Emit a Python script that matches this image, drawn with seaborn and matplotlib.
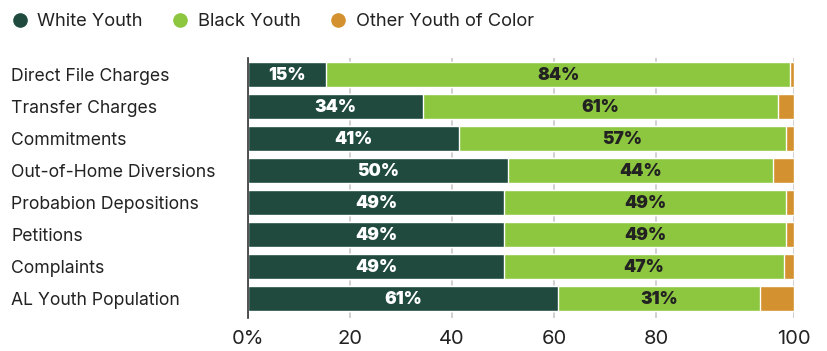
import matplotlib
matplotlib.use("Agg")
import matplotlib.pyplot as plt
import seaborn as sns
import numpy as np
import pandas as pd
from matplotlib.lines import Line2D

categories = ["Direct File Charges", "Transfer Charges", "Commitments",
              "Out-of-Home Diversions", "Probabion Depositions", "Petitions",
              "Complaints", "AL Youth Population"]
white = [15.3, 34.3, 41.4, 51.0, 50.2, 50.2, 50.2, 60.8]
black = [91.0, 69.6, 64.0, 51.9, 55.2, 55.2, 54.8, 39.5]
other = [0.7, 3.1, 1.6, 4.1, 1.6, 1.6, 2.0, 6.7]
white_labels = ["15%", "34%", "41%", "50%", "49%", "49%", "49%", "61%"]
black_labels = ["84%", "61%", "57%", "44%", "49%", "49%", "47%", "31%"]
tick_values = [0, 20, 40, 60, 80, 107]
tick_labels = ["0%", "20", "40", "60", "80", "100"]
series_names = ["White Youth", "Black Youth", "Other Youth of Color"]
colors = ["#1f4a3d", "#8dc63f", "#d4912f"]

sns.set_style("white")
plt.rcParams["font.family"] = ["Inter", "DejaVu Sans"]

df = pd.DataFrame({"category": categories, "white": white,
                   "black": black, "other": other})
df["wb"] = df["white"] + df["black"]
df["total"] = df["wb"] + df["other"]

fig = plt.figure(figsize=(8.27, 3.51), dpi=100)
ax = fig.add_axes([248 / 827, 1 - 318 / 351, (794 - 248) / 827, (318 - 58) / 351])

bw = 25 / 32
sns.barplot(data=df, x="total", y="category", orient="h", color=colors[2],
            width=bw, ax=ax, saturation=1, zorder=3)
sns.barplot(data=df, x="wb", y="category", orient="h", color=colors[1],
            width=bw, ax=ax, saturation=1, zorder=3)
sns.barplot(data=df, x="white", y="category", orient="h", color=colors[0],
            width=bw, ax=ax, saturation=1, zorder=3)

for i in range(len(categories)):
    ax.text(white[i] / 2, i + 0.04, white_labels[i], ha="center", va="center",
            color="white", fontsize=12.5, fontweight=900, zorder=5)
    ax.text(white[i] + black[i] / 2, i + 0.04, black_labels[i], ha="center",
            va="center", color="#222222", fontsize=12.5, fontweight=900, zorder=5)

ax.set_xlim(0, 107)
ax.set_ylim(7.609, -0.516)
ax.set_xticks(tick_values)
ax.set_xticklabels(tick_labels, fontsize=14.5, color="#222222")
ax.tick_params(axis="x", length=0, pad=8.5)
ax.set_yticks(range(len(categories)))
ax.set_yticklabels(categories, fontsize=12.7, color="#222222", ha="left")
ax.tick_params(axis="y", length=0, pad=170.5)
ax.set_xlabel("")
ax.set_ylabel("")
ax.xaxis.grid(True, color="#c8c8c8", linewidth=1.2, zorder=0)
ax.set_axisbelow(True)
for s in ["top", "right", "bottom"]:
    ax.spines[s].set_visible(False)
ax.spines["left"].set_color("#333333")
ax.spines["left"].set_linewidth(1.2)
ax.spines["left"].set_zorder(6)

handles = [Line2D([0], [0], marker="o", linestyle="", markersize=9.5,
                  markerfacecolor=c, markeredgecolor=c) for c in colors]
fig.legend(handles, series_names, loc="center left",
           bbox_to_anchor=(13.5 / 827, 1 - 21.5 / 351), ncol=3, frameon=False,
           fontsize=13.2, handlelength=0.7, handletextpad=0.6,
           columnspacing=1.7, borderpad=0, borderaxespad=0,
           labelcolor="#222222")

fig.savefig("out.png", dpi=100)
